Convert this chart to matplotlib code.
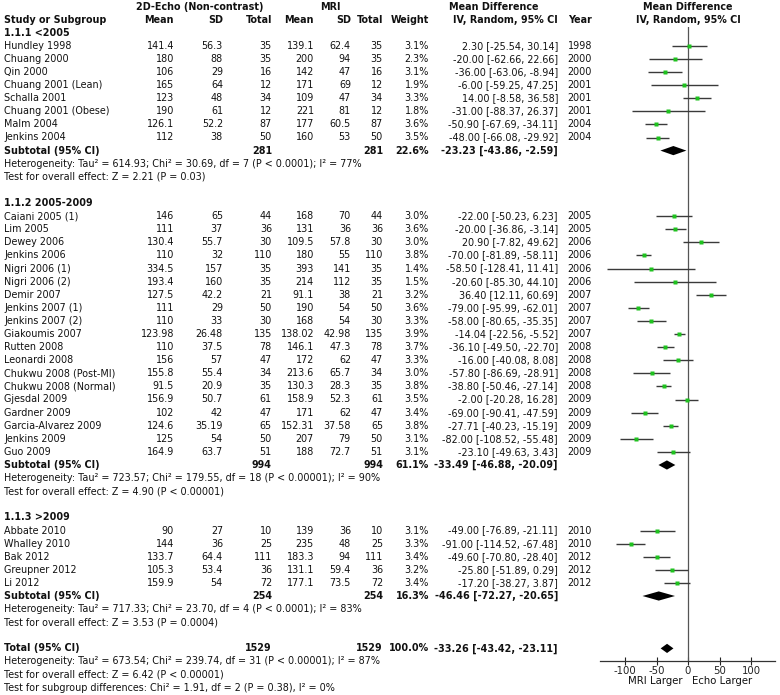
import numpy as np
import matplotlib
matplotlib.use("Agg")
import matplotlib.pyplot as plt
from matplotlib.patches import Polygon

plt.rcParams["font.family"] = ["DejaVu Sans"]
plt.rcParams["axes.unicode_minus"] = False

# ---- data ----
groups = ["1.1.1 <2005", "1.1.2 2005-2009", "1.1.3 >2009"]
group_sizes = [8, 19, 5]

studies = ["Hundley 1998", "Chuang 2000", "Qin 2000", "Chuang 2001 (Lean)", "Schalla 2001",
           "Chuang 2001 (Obese)", "Malm 2004", "Jenkins 2004",
           "Caiani 2005 (1)", "Lim 2005", "Dewey 2006", "Jenkins 2006", "Nigri 2006 (1)",
           "Nigri 2006 (2)", "Demir 2007", "Jenkins 2007 (1)", "Jenkins 2007 (2)",
           "Giakoumis 2007", "Rutten 2008", "Leonardi 2008", "Chukwu 2008 (Post-MI)",
           "Chukwu 2008 (Normal)", "Gjesdal 2009", "Gardner 2009", "Garcia-Alvarez 2009",
           "Jenkins 2009", "Guo 2009",
           "Abbate 2010", "Whalley 2010", "Bak 2012", "Greupner 2012", "Li 2012"]
echo_mean = [141.4, 180, 106, 165, 123, 190, 126.1, 112,
             146, 111, 130.4, 110, 334.5, 193.4, 127.5, 111, 110, 123.98, 110, 156,
             155.8, 91.5, 156.9, 102, 124.6, 125, 164.9,
             90, 144, 133.7, 105.3, 159.9]
echo_sd = [56.3, 88, 29, 64, 48, 61, 52.2, 38,
           65, 37, 55.7, 32, 157, 160, 42.2, 29, 33, 26.48, 37.5, 57,
           55.4, 20.9, 50.7, 42, 35.19, 54, 63.7,
           27, 36, 64.4, 53.4, 54]
echo_n = [35, 35, 16, 12, 34, 12, 87, 50,
          44, 36, 30, 110, 35, 35, 21, 50, 30, 135, 78, 47,
          34, 35, 61, 47, 65, 50, 51,
          10, 25, 111, 36, 72]
mri_mean = [139.1, 200, 142, 171, 109, 221, 177, 160,
            168, 131, 109.5, 180, 393, 214, 91.1, 190, 168, 138.02, 146.1, 172,
            213.6, 130.3, 158.9, 171, 152.31, 207, 188,
            139, 235, 183.3, 131.1, 177.1]
mri_sd = [62.4, 94, 47, 69, 47, 81, 60.5, 53,
          70, 36, 57.8, 55, 141, 112, 38, 54, 54, 42.98, 47.3, 62,
          65.7, 28.3, 52.3, 62, 37.58, 79, 72.7,
          36, 48, 94, 59.4, 73.5]
mri_n = echo_n
weight = [3.1, 2.3, 3.1, 1.9, 3.3, 1.8, 3.6, 3.5,
          3.0, 3.6, 3.0, 3.8, 1.4, 1.5, 3.2, 3.6, 3.3, 3.9, 3.7, 3.3,
          3.0, 3.8, 3.5, 3.4, 3.8, 3.1, 3.1,
          3.1, 3.3, 3.4, 3.2, 3.4]
md = [2.30, -20.00, -36.00, -6.00, 14.00, -31.00, -50.90, -48.00,
      -22.00, -20.00, 20.90, -70.00, -58.50, -20.60, 36.40, -79.00, -58.00, -14.04, -36.10, -16.00,
      -57.80, -38.80, -2.00, -69.00, -27.71, -82.00, -23.10,
      -49.00, -91.00, -49.60, -25.80, -17.20]
ci_lo = [-25.54, -62.66, -63.06, -59.25, -8.58, -88.37, -67.69, -66.08,
         -50.23, -36.86, -7.82, -81.89, -128.41, -85.30, 12.11, -95.99, -80.65, -22.56, -49.50, -40.08,
         -86.69, -50.46, -20.28, -90.41, -40.23, -108.52, -49.63,
         -76.89, -114.52, -70.80, -51.89, -38.27]
ci_hi = [30.14, 22.66, -8.94, 47.25, 36.58, 26.37, -34.11, -29.92,
         6.23, -3.14, 49.62, -58.11, 11.41, 44.10, 60.69, -62.01, -35.35, -5.52, -22.70, 8.08,
         -28.91, -27.14, 16.28, -47.59, -15.19, -55.48, 3.43,
         -21.11, -67.48, -28.40, 0.29, 3.87]
years = [1998, 2000, 2000, 2001, 2001, 2001, 2004, 2004,
         2005, 2005, 2006, 2006, 2006, 2006, 2007, 2007, 2007, 2007, 2008, 2008,
         2008, 2008, 2009, 2009, 2009, 2009, 2009,
         2010, 2010, 2012, 2012, 2012]

sub_n = [281, 994, 254]
sub_weight = [22.6, 61.1, 16.3]
sub_md = [-23.23, -33.49, -46.46]
sub_lo = [-43.86, -46.88, -72.27]
sub_hi = [-2.59, -20.09, -20.65]
sub_tau2 = ["614.93", "723.57", "717.33"]
sub_chi2 = ["30.69", "179.55", "23.70"]
sub_df = [7, 18, 4]
sub_het_p = ["P < 0.0001", "P < 0.00001", "P < 0.0001"]
sub_i2 = [77, 90, 83]
sub_z = ["2.21", "4.90", "3.53"]
sub_z_p = ["P = 0.03", "P < 0.00001", "P = 0.0004"]

total_n = 1529
total_md, total_lo, total_hi = -33.26, -43.42, -23.11
total_het = "Heterogeneity: Tau\u00b2 = 673.54; Chi\u00b2 = 239.74, df = 31 (P < 0.00001); I\u00b2 = 87%"
total_z = "Test for overall effect: Z = 6.42 (P < 0.00001)"
subgroup_diff = "Test for subgroup differences: Chi\u00b2 = 1.91, df = 2 (P = 0.38), I\u00b2 = 0%"

x_ticks = [-100, -50, 0, 50, 100]


def row_y(i):
    return 6.5 + 13.1 * i


def ci_text(m, lo, hi):
    return f"{m:.2f} [{lo:.2f}, {hi:.2f}]"


FS = 6.9
COL_MEAN1, COL_SD1, COL_N1 = 174, 223, 272
COL_MEAN2, COL_SD2, COL_N2 = 314, 351, 383
COL_W, COL_CI, COL_YEAR = 429, 558, 592

fig = plt.figure(figsize=(7.8, 6.95), dpi=100)
ax = fig.add_axes([0, 0, 1, 1])
ax.set_xlim(0, 780)
ax.set_ylim(695, 0)
ax.axis("off")

# forest panel: x in mean-difference units, y in pixel rows
px_top, px_bot, px_l, px_r = 27, 660.5, 600, 775
axf = fig.add_axes([px_l / 780, (695 - px_bot) / 695, (px_r - px_l) / 780, (px_bot - px_top) / 695])
axf.set_xlim(-139.7, 138.1)
axf.set_ylim(px_bot, px_top)
axf.patch.set_alpha(0)
for s in ("top", "left", "right"):
    axf.spines[s].set_visible(False)
axf.spines["bottom"].set_color("#333333")
axf.spines["bottom"].set_linewidth(0.9)
axf.set_yticks([])
axf.set_xticks(x_ticks)
axf.set_xticklabels([str(t) for t in x_ticks], fontsize=FS + 0.4)
axf.tick_params(axis="x", direction="inout", length=6, width=0.8, pad=1, colors="#222222")
axf.axvline(0, color="#555555", lw=0.9)


def txt(x, i, s, ha="right", bold=False):
    ax.text(x, row_y(i), s, ha=ha, va="center", fontsize=FS,
            fontweight="bold" if bold else "normal", color="#111111")


def diamond(m, lo, hi, i):
    y = row_y(i)
    h = 4.6
    axf.add_patch(Polygon([(lo, y), (m, y - h), (hi, y), (m, y + h)],
                          closed=True, color="black", lw=0))


# headers
hb = dict(va="center", fontsize=FS, fontweight="bold", color="#111111")
ax.text(200, row_y(0), "2D-Echo (Non-contrast)", ha="center", **hb)
ax.text(330, row_y(0), "MRI", ha="center", **hb)
ax.text(494, row_y(0), "Mean Difference", ha="center", **hb)
ax.text(688, row_y(0), "Mean Difference", ha="center", **hb)
txt(4, 1, "Study or Subgroup", ha="left", bold=True)
for x, lab in [(COL_MEAN1, "Mean"), (COL_SD1, "SD"), (COL_N1, "Total"),
               (COL_MEAN2, "Mean"), (COL_SD2, "SD"), (COL_N2, "Total"),
               (COL_W, "Weight"), (COL_CI, "IV, Random, 95% CI"), (COL_YEAR, "Year")]:
    txt(x, 1, lab, bold=True)
ax.text(688, row_y(1), "IV, Random, 95% CI", ha="center", **hb)

# body
row = 2
k = 0
for g, label in enumerate(groups):
    txt(4, row, label, ha="left", bold=True)
    row += 1
    for _ in range(group_sizes[g]):
        txt(4, row, studies[k], ha="left")
        txt(COL_MEAN1, row, f"{echo_mean[k]:g}")
        txt(COL_SD1, row, f"{echo_sd[k]:g}")
        txt(COL_N1, row, f"{echo_n[k]}")
        txt(COL_MEAN2, row, f"{mri_mean[k]:g}")
        txt(COL_SD2, row, f"{mri_sd[k]:g}")
        txt(COL_N2, row, f"{mri_n[k]}")
        txt(COL_W, row, f"{weight[k]:.1f}%")
        txt(COL_CI, row, ci_text(md[k], ci_lo[k], ci_hi[k]))
        txt(COL_YEAR, row, f"{years[k]}")
        y = row_y(row)
        axf.plot([ci_lo[k], ci_hi[k]], [y, y], color="#3a3a3a", lw=1.0, solid_capstyle="butt", zorder=2)
        axf.plot([md[k]], [y], marker="s", ms=2.7, color="#1fc21f", mec="none", zorder=4)
        row += 1
        k += 1
    txt(4, row, "Subtotal (95% CI)", ha="left", bold=True)
    txt(COL_N1, row, f"{sub_n[g]}", bold=True)
    txt(COL_N2, row, f"{sub_n[g]}", bold=True)
    txt(COL_W, row, f"{sub_weight[g]:.1f}%", bold=True)
    txt(COL_CI, row, ci_text(sub_md[g], sub_lo[g], sub_hi[g]), bold=True)
    diamond(sub_md[g], sub_lo[g], sub_hi[g], row)
    row += 1
    txt(4, row, f"Heterogeneity: Tau\u00b2 = {sub_tau2[g]}; Chi\u00b2 = {sub_chi2[g]}, "
                f"df = {sub_df[g]} ({sub_het_p[g]}); I\u00b2 = {sub_i2[g]}%", ha="left")
    row += 1
    txt(4, row, f"Test for overall effect: Z = {sub_z[g]} ({sub_z_p[g]})", ha="left")
    row += 2

txt(4, row, "Total (95% CI)", ha="left", bold=True)
txt(COL_N1, row, f"{total_n}", bold=True)
txt(COL_N2, row, f"{total_n}", bold=True)
txt(COL_W, row, "100.0%", bold=True)
txt(COL_CI, row, ci_text(total_md, total_lo, total_hi), bold=True)
diamond(total_md, total_lo, total_hi, row)
txt(4, row + 1, total_het, ha="left")
txt(4, row + 2, total_z, ha="left")
txt(4, row + 3, subgroup_diff, ha="left")

ax.text(683, 681, "MRI Larger", ha="right", va="center", fontsize=FS + 0.4, color="#111111")
ax.text(692, 681, "Echo Larger", ha="left", va="center", fontsize=FS + 0.4, color="#111111")

fig.savefig("out.png", dpi=100)
